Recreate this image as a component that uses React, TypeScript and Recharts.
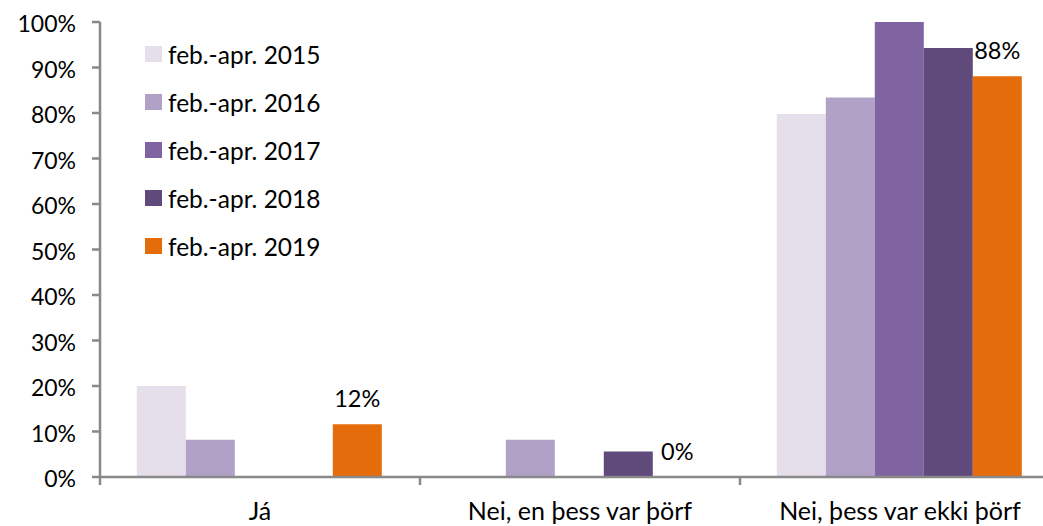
import React from "react";
import { BarChart, Bar, XAxis, YAxis, Legend, LabelList } from "recharts";

// categories on the x axis
const categories = ["Já", "Nei, en þess var þörf", "Nei, þess var ekki þörf"];

// share of answers per survey period (%)
const y2015 = [20, 0, 79.8];
const y2016 = [8.2, 8.2, 83.4];
const y2017 = [0, 0, 100];
const y2018 = [0, 5.6, 94.3];
const y2019 = [11.6, 0.1, 88.1];

const seriesKeys = ["y2015", "y2016", "y2017", "y2018", "y2019"];
const seriesNames = [
  "feb.-apr. 2015",
  "feb.-apr. 2016",
  "feb.-apr. 2017",
  "feb.-apr. 2018",
  "feb.-apr. 2019",
];
const COLORS = ["#E5DFEC", "#B2A1C7", "#8064A2", "#604A7B", "#E46C0A"];

const yTicks = [0, 10, 20, 30, 40, 50, 60, 70, 80, 90, 100];

const data = categories.map((name, i) => ({
  name,
  y2015: y2015[i],
  y2016: y2016[i],
  y2017: y2017[i],
  y2018: y2018[i],
  y2019: y2019[i],
}));

const AXIS = "#898989";
const FONT = "Lato";

// category label plus a tick mark on the left edge of each band
const CategoryTick = (props: any) => {
  const { x, y, payload } = props;
  const half = payload && payload.offset ? payload.offset : 160;
  return (
    <g>
      <line x1={x - half} x2={x - half} y1={y - 8} y2={y} stroke={AXIS} strokeWidth={2.5} />
      <text x={x} y={y} dy={35} textAnchor="middle" fill="#000" fontSize={25} fontFamily={FONT}>
        {payload.value}
      </text>
    </g>
  );
};

const renderLegend = () => (
  <div style={{ fontFamily: FONT, fontSize: 24.5, color: "#000" }}>
    {seriesNames.map((name, i) => (
      <div key={name} style={{ display: "flex", alignItems: "center", height: 48 }}>
        <span
          style={{ display: "inline-block", width: 17, height: 16, background: COLORS[i], marginRight: 6 }}
        />
        <span style={{ whiteSpace: "nowrap" }}>{name}</span>
      </div>
    ))}
  </div>
);

export default function App() {
  return (
    <div
      style={{
        position: "absolute",
        left: 0,
        top: 0,
        width: 1043,
        height: 526,
        overflow: "hidden",
        background: "#fff",
        fontFamily: FONT,
      }}
    >
      <BarChart
        width={1062}
        height={526}
        data={data}
        margin={{ top: 22, right: 2, bottom: 0, left: 0 }}
        barGap={0}
        barCategoryGap="11.5%"
      >
        <XAxis
          dataKey="name"
          height={49}
          axisLine={{ stroke: AXIS, strokeWidth: 2.5 }}
          tickLine={false}
          tickSize={8}
          tickMargin={0}
          interval={0}
          tick={<CategoryTick />}
        />
        <YAxis
          domain={[0, 100]}
          ticks={yTicks}
          width={100}
          interval={0}
          tickFormatter={(v: number) => `${v}%`}
          axisLine={{ stroke: AXIS, strokeWidth: 2.5 }}
          tickLine={{ stroke: AXIS, strokeWidth: 2.5 }}
          tickSize={8}
          tickMargin={16}
          tick={{ fill: "#000", fontSize: 23, fontFamily: FONT, dy: 2 }}
        />
        <Legend
          layout="vertical"
          align="center"
          verticalAlign="middle"
          wrapperStyle={{ left: 145, top: 30, width: 220 }}
          content={renderLegend}
        />
        {seriesKeys.map((key, i) => (
          <Bar key={key} dataKey={key} name={seriesNames[i]} fill={COLORS[i]} isAnimationActive={false}>
            {key === "y2019" && (
              <LabelList
                dataKey={key}
                position="top"
                offset={17}
                fill="#000"
                fontSize={23.5}
                fontFamily={FONT}
                formatter={(v: any) => `${Math.round(Number(v))}%`}
              />
            )}
          </Bar>
        ))}
      </BarChart>
    </div>
  );
}
